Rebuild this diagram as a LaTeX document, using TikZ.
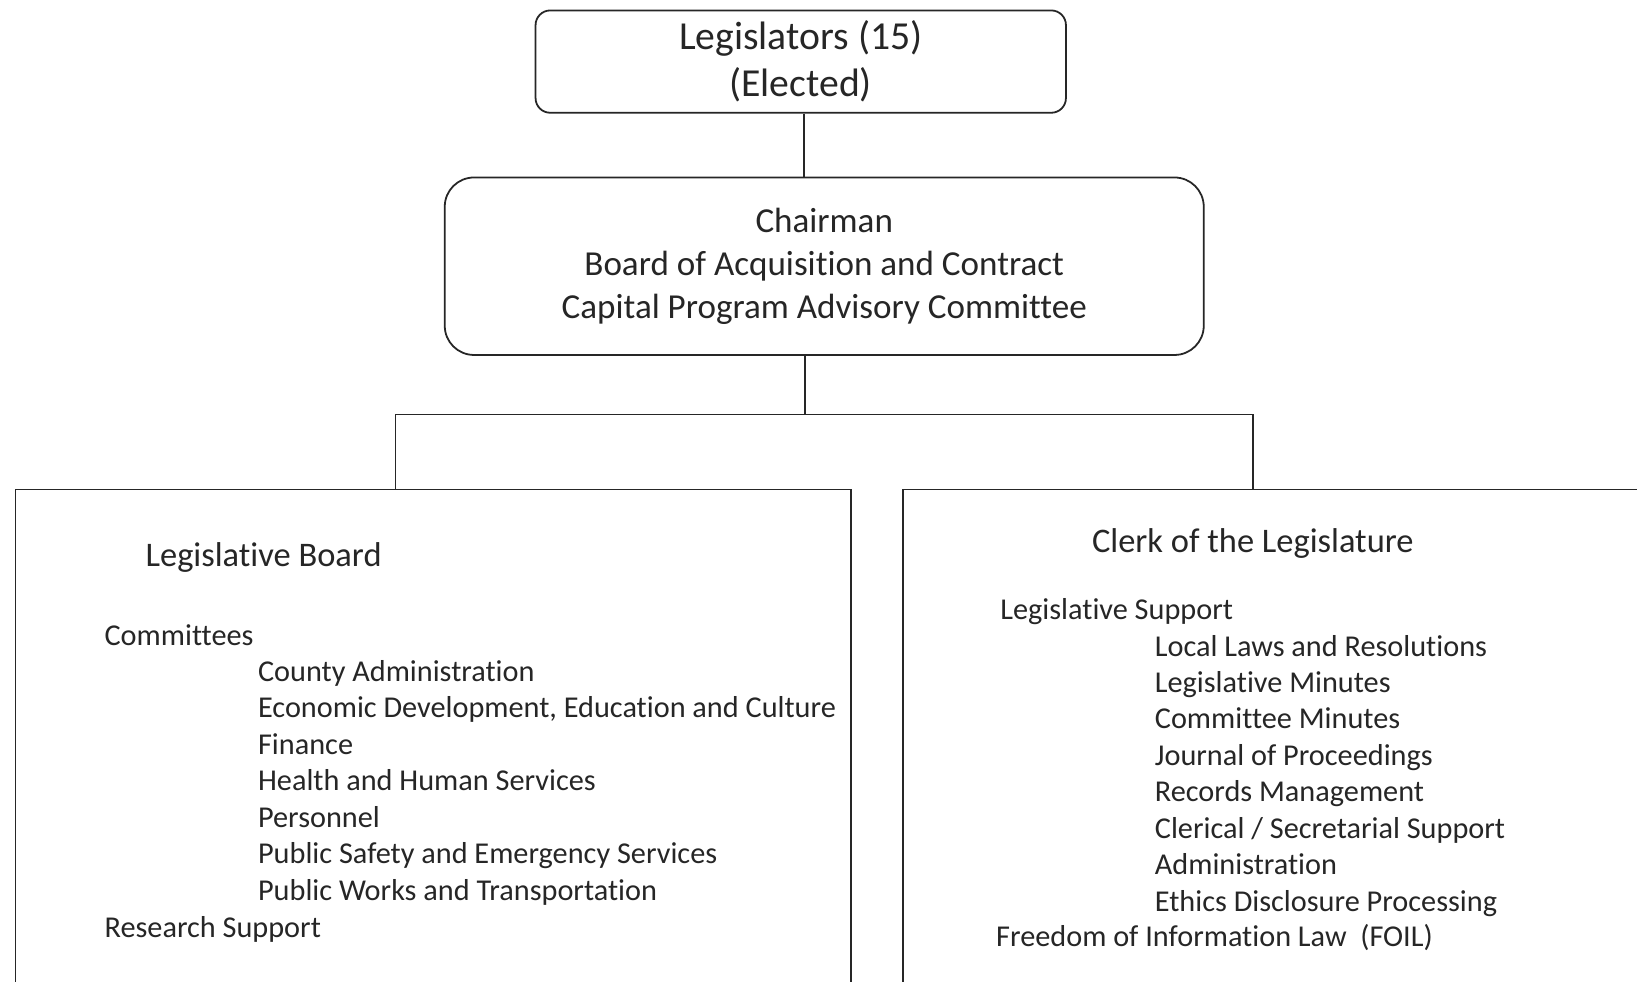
\documentclass[tikz,border=0pt]{standalone}
\usepackage{fontspec}
\setmainfont{Carlito}[Ligatures=NoCommon]
\begin{document}
\begin{tikzpicture}[x=1pt, y=-1pt,
	rbox/.style={draw=black!85, line width=1.7pt, rounded corners=#1, align=center, inner sep=0pt, text=black!85},
	sbox/.style={draw=black!85, line width=1.7pt, inner sep=0pt},
	conn/.style={draw=black!85, line width=1.5pt},
	head/.style={inner sep=0pt, text=black!85, font=\fontsize{33}{40}\selectfont},
	item/.style={anchor=west, inner sep=0pt, text height=0.72em, text depth=0.22em, text=black!85, font=\fontsize{29}{34}\selectfont}]
	\fill[white] (0,0) rectangle (1568,940);
	\useasboundingbox (0,0) rectangle (1568,940);

	% Kopf
	\node[rbox=14pt, minimum width=508, minimum height=98, font=\fontsize{38}{45}\selectfont] (legis) at (767,59) {Legislators (15)\\(Elected)};
	\node[rbox=28pt, minimum width=727, minimum height=170, font=\fontsize{33.6}{41}\selectfont] (chair) at (789.5,255) {Chairman\\Board of Acquisition and Contract\\Capital Program Advisory Committee};

	% untere Kaesten
	\node[sbox, anchor=north west, minimum width=800, minimum height=560] (board) at (14,468) {};
	\node[sbox, anchor=north west, minimum width=760, minimum height=560] (clerk) at (864,468) {};

	% Verbindungen
	\coordinate (top) at (770,0);
	\coordinate (bus) at (771,397);
	\coordinate (busL) at (379,397);
	\coordinate (busR) at (1200,397);
	\draw[conn] (legis.south -| top) -- (chair.north -| top);
	\draw[conn] (chair.south -| bus) -- (bus);
	\draw[conn] (board.north -| busL) |- (busR) -- (clerk.north -| busR);

	% Legislative Board
	\node[head] (bhead) at (252.5,534) {Legislative Board};
	\node[item] (comm) at (100,616) {Committees};
	\foreach \t [count=\i] in {County Administration, {Economic Development, Education and Culture}, Finance, Health and Human Services, Personnel, Public Safety and Emergency Services, Public Works and Transportation}
		\node[item] (com\i) at (247,615+35*\i) {\t};
	\node[item] (research) at (100,895) {Research Support};

	% Clerk of the Legislature
	\node[head] (chead) at (1200,521) {Clerk of the Legislature};
	\node[item] (lsup) at (958,591) {Legislative Support};
	\foreach \t [count=\i] in {Local Laws and Resolutions, Legislative Minutes, Committee Minutes, Journal of Proceedings, Records Management, Clerical / Secretarial Support, Administration, Ethics Disclosure Processing}
		\node[item] (sup\i) at (1106,591+34.9*\i) {\t};
	\node[item] (foil) at (954,904) {Freedom of Information Law~~(FOIL)};
\end{tikzpicture}
\end{document}
